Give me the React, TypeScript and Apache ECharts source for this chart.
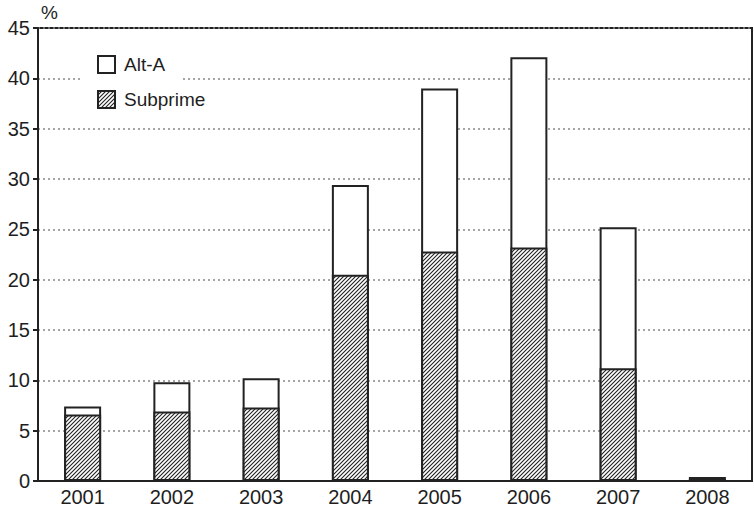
import React, { useEffect, useRef } from "react";
import * as echarts from "echarts";

const years = ["2001", "2002", "2003", "2004", "2005", "2006", "2007", "2008"];
// Subprime share (%), bottom segment
const subprime = [6.6, 6.9, 7.3, 20.5, 22.8, 23.2, 11.2, 0.2];
// Alt-A + Subprime combined (%), top of each bar
const combinedTotal = [7.4, 9.8, 10.2, 29.4, 39.0, 42.1, 25.2, 0.4];

function makeHatch(): HTMLCanvasElement {
  const c = document.createElement("canvas");
  const s = 4;
  c.width = s;
  c.height = s;
  const ctx = c.getContext("2d")!;
  ctx.fillStyle = "#ffffff";
  ctx.fillRect(0, 0, s, s);
  ctx.strokeStyle = "#222";
  ctx.lineWidth = 1.1;
  ctx.beginPath();
  ctx.moveTo(0, s);
  ctx.lineTo(s, 0);
  ctx.moveTo(-1, 1);
  ctx.lineTo(1, -1);
  ctx.moveTo(s - 1, s + 1);
  ctx.lineTo(s + 1, s - 1);
  ctx.stroke();
  return c;
}

export default function App() {
  const ref = useRef<HTMLDivElement>(null);
  useEffect(() => {
    if (!ref.current) return;
    const chart = echarts.init(ref.current, null, { renderer: "svg" });
    const hatch = { image: makeHatch(), repeat: "repeat" };
    const font = "Liberation Sans, Arial, sans-serif";
    chart.setOption({
      animation: false,
      textStyle: { fontFamily: font, color: "#1e1e1e" },
      grid: {
        left: 38,
        top: 28,
        right: 2,
        bottom: 34,
        show: true,
        borderColor: "#222",
        borderWidth: 2,
        backgroundColor: "transparent",
      },
      graphic: [
        {
          type: "text",
          left: 41,
          top: 3,
          style: { text: "%", font: "19px Liberation Sans, Arial, sans-serif", fill: "#1e1e1e" },
        },
        {
          type: "rect",
          shape: { x: 83, y: 72, width: 100, height: 12 },
          style: { fill: "#fff" },
          z: 1,
        },
      ],
      legend: {
        data: ["Alt-A", "Subprime"],
        orient: "vertical",
        left: 92,
        top: 50,
        padding: 5,
        itemWidth: 17,
        itemHeight: 17,
        itemGap: 16,
        icon: "rect",
        textStyle: { fontSize: 19, color: "#1e1e1e", fontFamily: font, padding: [0, 0, 0, 4] },
        itemStyle: { borderColor: "#222", borderWidth: 2 },
      },
      xAxis: {
        type: "category",
        data: years,
        boundaryGap: true,
        axisLine: { lineStyle: { color: "#222", width: 2 } },
        axisTick: { inside: true, length: 5, lineStyle: { color: "#222", width: 2 } },
        axisLabel: { fontSize: 20, color: "#1e1e1e", margin: 6, fontFamily: font },
      },
      yAxis: {
        type: "value",
        min: 0,
        max: 45,
        interval: 5,
        axisLine: { show: true, lineStyle: { color: "#222", width: 2 } },
        axisTick: { show: true, length: 5, lineStyle: { color: "#222", width: 2 } },
        axisLabel: { fontSize: 20, color: "#1e1e1e", margin: 8, fontFamily: font },
        splitLine: { show: true, lineStyle: { color: "#888", type: [2, 3], width: 1.5 } },
      },
      series: [
        {
          name: "Alt-A",
          type: "bar",
          data: combinedTotal,
          barWidth: 37,
          barGap: "-100%",
          itemStyle: { color: "#fff", borderColor: "#222", borderWidth: 2 },
          z: 3,
        },
        {
          name: "Subprime",
          type: "bar",
          data: subprime,
          barWidth: 37,
          barGap: "-100%",
          itemStyle: { color: hatch, borderColor: "#222", borderWidth: 2 },
          z: 4,
        },
      ],
    });
    return () => chart.dispose();
  }, []);
  return <div ref={ref} style={{ width: 754, height: 515, position: "absolute", left: 0, top: 0 }} />;
}
